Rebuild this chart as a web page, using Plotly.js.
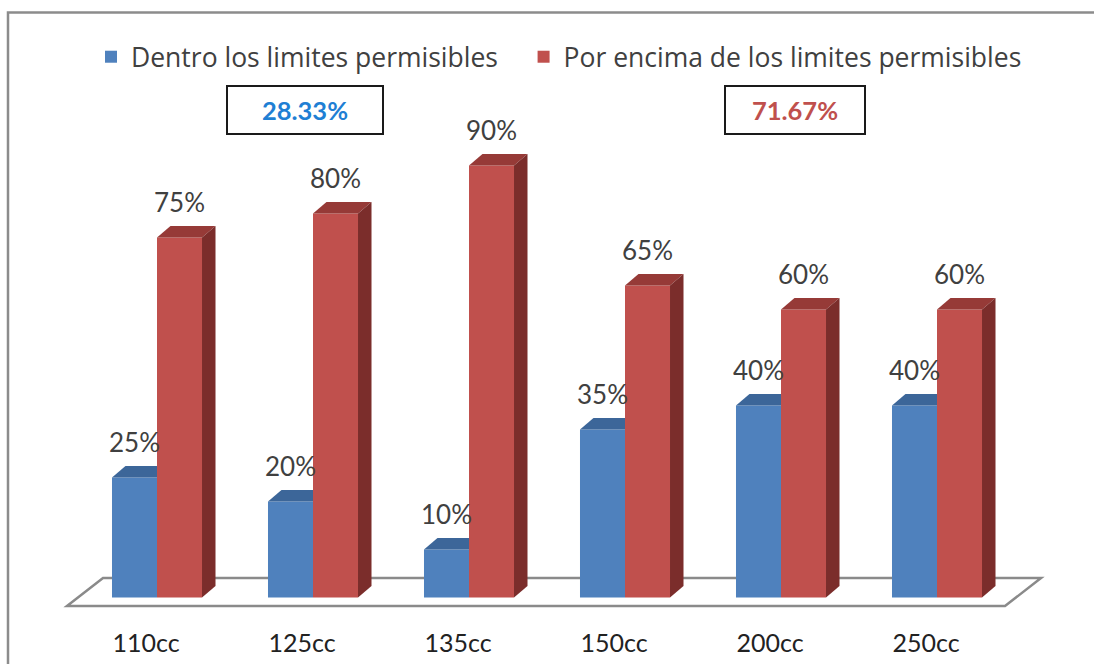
<!DOCTYPE html>
<html>
<head>
<meta charset="utf-8">
<script src="https://cdn.plot.ly/plotly-3.0.1.min.js"></script>
<style>
  html, body { margin: 0; padding: 0; background: #ffffff; }
  #chart { width: 1094px; height: 664px; }
</style>
</head>
<body>
<div id="chart"></div>
<script>
// Engine displacement classes
const categories = ['110cc', '125cc', '135cc', '150cc', '200cc', '250cc'];
// Share of vehicles within the permissible limits (%)
const dentro = [25, 20, 10, 35, 40, 40];
// Share of vehicles above the permissible limits (%)
const encima = [75, 80, 90, 65, 60, 60];

const serieNames = ['Dentro los limites permisibles', 'Por encima de los limites permisibles'];

// Pseudo-3D geometry (axis units)
const W = 0.2885;     // bar front width
const DX = 0.0865;    // depth shift to the right
const DY = 2.4;       // depth shift upwards (in %)
const FONT = 'Lato, "Open Sans", sans-serif';
const LEGEND_FONT = '"Open Sans", Lato, sans-serif';
const TEXT = '#404040';
const LEGEND_PAD = '\u00a0\u00a0\u00a0';   // extra room between the two legend entries

const colors = {
  blue:  { front: '#4f81bd', top: '#3c6699', side: '#385d8a' },
  red:   { front: '#c0504d', top: '#963a37', side: '#7b2d2b' }
};

const idx = categories.map((_, i) => i);
const mean = a => a.reduce((s, v) => s + v, 0) / a.length;

const traces = [];

// Front faces: ordinary bar traces (also provide the legend entries)
traces.push({
  type: 'bar', name: serieNames[0] + LEGEND_PAD, x: idx, y: dentro, base: 0,
  offset: -W, width: W, marker: { color: colors.blue.front, line: { width: 0 } },
  hoverinfo: 'skip'
});
traces.push({
  type: 'bar', name: serieNames[1], x: idx, y: encima, base: 0,
  offset: 0, width: W, marker: { color: colors.red.front, line: { width: 0 } },
  hoverinfo: 'skip'
});

// Top / side faces as filled polygons, built from the same values
function face(xs, ys, color) {
  traces.push({
    type: 'scatter', mode: 'lines', x: xs, y: ys, fill: 'toself',
    fillcolor: color, line: { width: 0, color: color },
    showlegend: false, hoverinfo: 'skip'
  });
}

idx.forEach(i => {
  const vb = dentro[i], vr = encima[i];
  // blue bar: x from i-W to i
  const b0 = i - W, b1 = i;
  // the neighbouring red bar hides the part of the blue top beyond its right edge
  const bRight = vr >= vb + DY ? b1 : b1 + DX;
  face([b0, b0 + DX, bRight, b1, b0], [vb, vb + DY, vb + DY, vb, vb], colors.blue.top);
  if (vr < vb + DY) {
    face([b1, b1 + DX, b1 + DX, b1, b1], [0, DY, vb + DY, vb, 0], colors.blue.side);
  }
  // red bar: x from i to i+W
  const r0 = i, r1 = i + W;
  face([r0, r0 + DX, r1 + DX, r1, r0], [vr, vr + DY, vr + DY, vr, vr], colors.red.top);
  face([r1, r1 + DX, r1 + DX, r1, r1], [0, DY, vr + DY, vr, 0], colors.red.side);
});

// Value labels above each bar
traces.push({
  type: 'scatter', mode: 'text', x: idx.map(i => i - W / 2), y: dentro.map(v => v + 6.6),
  text: dentro.map(v => v + '%'), textposition: 'middle center',
  textfont: { family: FONT, size: 26, color: TEXT }, showlegend: false, hoverinfo: 'skip'
});
traces.push({
  type: 'scatter', mode: 'text', x: idx.map(i => i + W / 2), y: encima.map(v => v + 6.6),
  text: encima.map(v => v + '%'), textposition: 'middle center',
  textfont: { family: FONT, size: 26, color: TEXT }, showlegend: false, hoverinfo: 'skip'
});

// Category labels under the floor
traces.push({
  type: 'scatter', mode: 'text', x: idx.map(i => i - 0.07), y: idx.map(() => -10.1),
  text: categories, textposition: 'middle center',
  textfont: { family: FONT, size: 25, color: '#222222' }, showlegend: false, hoverinfo: 'skip'
});

// Floor parallelogram (drawn beneath the bars)
const n = categories.length;
const fl = { x0: -0.577, x1: n - 1 + 0.436, back: 0.231, y0: -1.77, y1: 4.06 };
const floorPath = `M ${fl.x0},${fl.y0} L ${fl.x1},${fl.y0} L ${fl.x1 + fl.back},${fl.y1} L ${fl.x0 + fl.back},${fl.y1} Z`;

const W_PX = 1094, H_PX = 664;
const px = p => p / W_PX;
const py = p => 1 - p / H_PX;

const layout = {
  width: W_PX, height: H_PX,
  margin: { l: 0, r: 0, t: 0, b: 0, pad: 0 },
  paper_bgcolor: '#ffffff', plot_bgcolor: '#ffffff',
  barmode: 'overlay',
  hovermode: false,
  showlegend: true,
  xaxis: { range: [-157 / 156, (W_PX - 157) / 156], visible: false, fixedrange: true },
  yaxis: { range: [(597.5 - H_PX) / 4.8, 597.5 / 4.8], visible: false, fixedrange: true },
  legend: {
    orientation: 'h', x: px(91), y: py(57), xanchor: 'left', yanchor: 'middle',
    font: { family: LEGEND_FONT, size: 26.5, color: TEXT }, bgcolor: 'rgba(0,0,0,0)',
    itemclick: false, itemdoubleclick: false, traceorder: 'normal'
  },
  shapes: [
    // outer frame
    { type: 'rect', xref: 'paper', yref: 'paper', x0: px(8), x1: 1.02, y0: -0.05, y1: py(12.5),
      line: { color: '#8c8c8c', width: 2.5 }, fillcolor: 'rgba(0,0,0,0)', layer: 'below' },
    { type: 'path', xref: 'x', yref: 'y', path: floorPath,
      line: { color: '#8a8a8a', width: 2.5 }, fillcolor: '#ffffff', layer: 'below' }
  ],
  annotations: [
    { xref: 'paper', yref: 'paper', x: px(304.5), y: py(110.5), xanchor: 'center', yanchor: 'middle',
      text: '<b>' + mean(dentro).toFixed(2) + '%</b>', showarrow: false,
      font: { family: FONT, size: 25.5, color: '#1f7fd4' },
      bordercolor: '#1a1a1a', borderwidth: 2, borderpad: 0, width: 154, height: 46, bgcolor: '#ffffff' },
    { xref: 'paper', yref: 'paper', x: px(795), y: py(110.5), xanchor: 'center', yanchor: 'middle',
      text: '<b>' + mean(encima).toFixed(2) + '%</b>', showarrow: false,
      font: { family: FONT, size: 25.5, color: '#c0504d' },
      bordercolor: '#1a1a1a', borderwidth: 2, borderpad: 0, width: 138, height: 46, bgcolor: '#ffffff' }
  ]
};

Plotly.newPlot('chart', traces, layout, { displayModeBar: false, staticPlot: true });
</script>
</body>
</html>
